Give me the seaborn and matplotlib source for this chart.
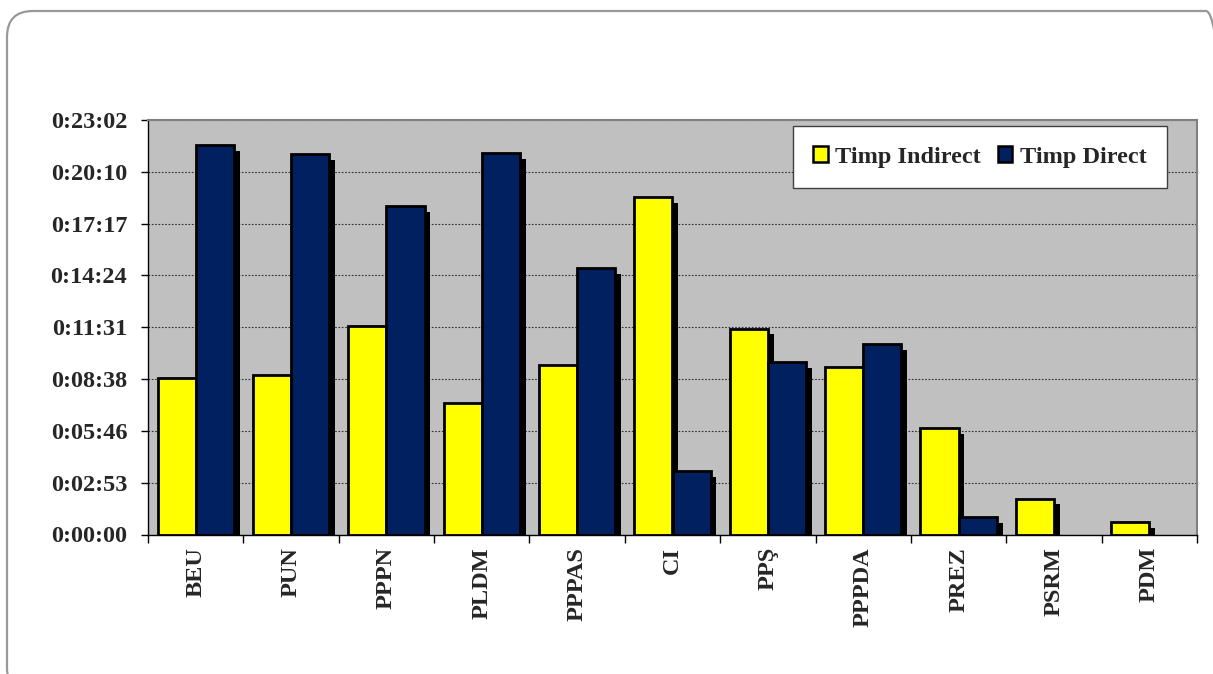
import numpy as np
import pandas as pd
import matplotlib
matplotlib.use('Agg')
import matplotlib.pyplot as plt
import matplotlib.patheffects as pe
from matplotlib.patches import Patch, FancyBboxPatch
from matplotlib.transforms import IdentityTransform
from matplotlib.ticker import FixedLocator, FuncFormatter
import seaborn as sns

categories = ['BEU', 'PUN', 'PPPN', 'PLDM', 'PPPAS', 'CI', 'PPŞ', 'PPPDA', 'PREZ', 'PSRM', 'PDM']
timp_indirect = ['0:08:42', '0:08:51', '0:11:35', '0:07:17', '0:09:24', '0:18:45',
                 '0:11:27', '0:09:17', '0:05:56', '0:02:00', '0:00:41']
timp_direct = ['0:21:40', '0:21:10', '0:18:15', '0:21:11', '0:14:48', '0:03:32',
               '0:09:35', '0:10:36', '0:00:57', '0:00:00', '0:00:00']
series = ['Timp Indirect', 'Timp Direct']
colors = ['#FFFF00', '#002060']
y_ticks = ['0:00:00', '0:02:53', '0:05:46', '0:08:38', '0:11:31', '0:14:24', '0:17:17', '0:20:10', '0:23:02']


def to_sec(s):
    h, m, sec = s.split(':')
    return int(h) * 3600 + int(m) * 60 + int(sec)


def fmt(v, pos=None):
    v = int(round(v))
    return '%d:%02d:%02d' % (v // 3600, (v % 3600) // 60, v % 60)


df = pd.DataFrame({
    'Partid': categories * 2,
    'Serie': [series[0]] * len(categories) + [series[1]] * len(categories),
    'Secunde': [to_sec(t) for t in timp_indirect] + [to_sec(t) for t in timp_direct],
})

sns.set_style('white')
plt.rcParams['font.family'] = ['Liberation Serif', 'DejaVu Serif']
plt.rcParams['font.weight'] = 'bold'

fig = plt.figure(figsize=(12.13, 6.74), dpi=100)
ax = fig.add_axes([148 / 1213, 1 - 534.5 / 674, 1049 / 1213, 414.5 / 674])

sns.barplot(data=df, x='Partid', y='Secunde', hue='Serie', palette=colors,
            width=0.8, edgecolor='black', linewidth=2.0, saturation=1, ax=ax)

for p in ax.patches:
    if p.get_height() <= 0:
        p.set_visible(False)
        continue
    p.set_path_effects([pe.SimplePatchShadow(offset=(4.2, -4.2), shadow_rgbFace='black', alpha=1.0),
                        pe.Normal()])

# axes look
ax.set_facecolor('#C0C0C0')
ax.set_xlim(-0.5, len(categories) - 0.5)
# tick step is 1/500 of a day (172.8 s)
step = 86400 / 500
ax.set_ylim(0, step * (len(y_ticks) - 1))
ax.yaxis.set_major_locator(FixedLocator([step * i for i in range(len(y_ticks))]))
ax.yaxis.set_major_formatter(FuncFormatter(fmt))
ax.grid(axis='y', color='#303030', linestyle=(0, (1.5, 1.5)), linewidth=0.8)
ax.set_axisbelow(True)

for s in ['top', 'right']:
    ax.spines[s].set_color('#808080')
    ax.spines[s].set_linewidth(1.5)
for s in ['left', 'bottom']:
    ax.spines[s].set_color('black')
    ax.spines[s].set_linewidth(1.0)

ax.set_xticks(range(len(categories)))
ax.set_xticklabels(categories, rotation=90, fontsize=17.5, fontweight='bold', va='top')
ax.xaxis.set_minor_locator(FixedLocator(np.arange(-0.5, len(categories), 1.0)))
ax.tick_params(axis='x', which='major', length=0, pad=9)
ax.tick_params(axis='x', which='minor', length=6, width=1, color='black', direction='out', bottom=True)
ax.tick_params(axis='y', which='major', length=5, width=1, color='black', direction='out', left=True,
               labelsize=17.5, pad=10)
for lab in ax.get_yticklabels():
    lab.set_fontweight('bold')
ax.set_xlabel('')
ax.set_ylabel('')

handles = [Patch(facecolor=c, edgecolor='black', linewidth=1.8) for c in colors]
leg = ax.legend(handles, series, ncol=2, loc='center',
                bbox_to_anchor=(0.617, 0.831, 0.352, 0.159),
                prop={'family': 'Liberation Serif', 'weight': 'bold', 'size': 17.5},
                frameon=True, fancybox=False, framealpha=1, edgecolor='#404040',
                borderpad=0.85, handlelength=0.6, handleheight=0.6, handletextpad=0.3,
                columnspacing=0.7, borderaxespad=0)
leg.get_frame().set_linewidth(1.0)

# rounded outer frame
frame = FancyBboxPatch((7, -20), 1225, 663 + 20, boxstyle='round,pad=0,rounding_size=26',
                       transform=IdentityTransform(), facecolor='none', edgecolor='#999999',
                       linewidth=1.6)
fig.patches.append(frame)

fig.savefig('out.png', dpi=100)
